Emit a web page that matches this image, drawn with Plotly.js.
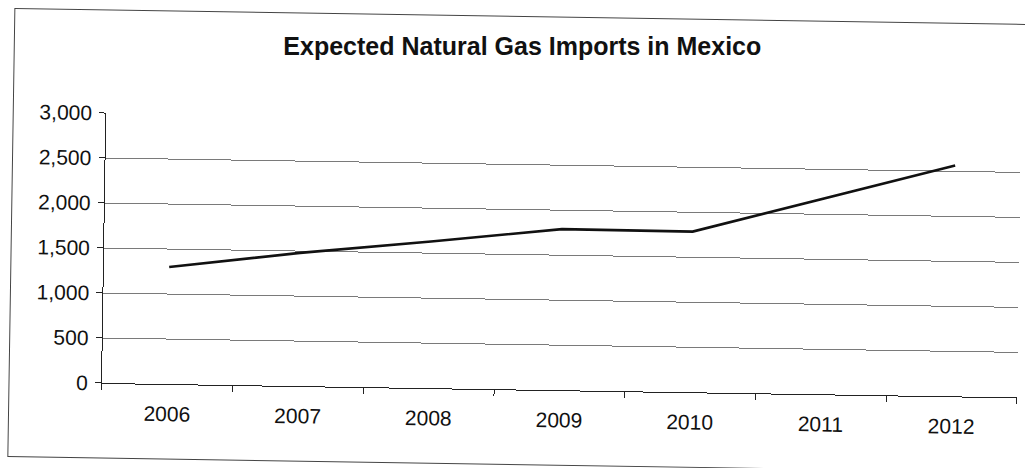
<!DOCTYPE html>
<html>
<head>
<meta charset="utf-8">
<script src="https://cdn.plot.ly/plotly-3.0.1.min.js"></script>
<style>
  html, body { margin: 0; padding: 0; background: #fff; overflow: hidden; }
  #chart { width: 1025px; height: 468px; transform: rotate(0.9deg); transform-origin: 102px 383px; }
</style>
</head>
<body>
<div id="chart"></div>
<script>
// Expected natural gas imports in Mexico, 2006-2012
const years = ['2006', '2007', '2008', '2009', '2010', '2011', '2012'];
const imports = [1300, 1480, 1630, 1790, 1785, 2175, 2565];
const yTicks = [0, 500, 1000, 1500, 2000, 2500, 3000];

const tilt = 0.9; // page tilt in degrees, title kept level

const trace = {
  x: years,
  y: imports,
  type: 'scatter',
  mode: 'lines',
  line: { color: '#111', width: 2.6 },
  hoverinfo: 'x+y'
};

const layout = {
  width: 1025,
  height: 468,
  margin: { l: 102, r: 8, t: 113, b: 85 },
  paper_bgcolor: '#fff',
  plot_bgcolor: '#fff',
  showlegend: false,
  font: { family: 'Liberation Sans, Arial, sans-serif', color: '#111' },
  title: {
    text: 'Expected Natural Gas Imports in Mexico',
    font: { family: 'Liberation Sans, Arial, sans-serif', size: 25, color: '#111', weight: 'bold' },
    x: 517 / 1025,
    xanchor: 'center',
    y: 1 - 40 / 468,
    yanchor: 'middle'
  },
  xaxis: {
    type: 'category',
    range: [-0.5, years.length - 0.5],
    showline: true,
    linecolor: '#222',
    linewidth: 1,
    ticks: 'outside',
    tickson: 'boundaries',
    ticklen: 6,
    tickcolor: '#222',
    showgrid: false,
    tickfont: { size: 21 },
    ticklabelstandoff: 11,
    fixedrange: true
  },
  yaxis: {
    range: [0, 3000],
    tickvals: yTicks,
    tickformat: ',d',
    showline: true,
    linecolor: '#222',
    linewidth: 1,
    ticks: 'outside',
    ticklen: 6,
    tickcolor: '#222',
    showgrid: true,
    gridcolor: '#7a7a7a',
    gridwidth: 1,
    zeroline: false,
    tickfont: { size: 21 },
    ticklabelstandoff: 3,
    fixedrange: true
  },
  shapes: [{
    // outer chart frame; its right side runs past the page edge
    type: 'rect',
    xref: 'paper', yref: 'paper',
    x0: (9 - 102) / 915, x1: (1100 - 102) / 915,
    y0: (383 - 458) / 270, y1: (383 - 10) / 270,
    line: { color: '#444', width: 1 },
    fillcolor: 'rgba(0,0,0,0)',
    layer: 'below'
  }]
};

Plotly.newPlot('chart', [trace], layout, { staticPlot: true, displayModeBar: false }).then(function (gd) {
  const t = gd.querySelector('.gtitle');
  if (t) {
    const bb = t.getBBox();
    const cx = bb.x + bb.width / 2;
    const cy = bb.y + bb.height / 2;
    t.setAttribute('transform', 'rotate(' + (-tilt) + ' ' + cx + ' ' + cy + ')');
  }
});
</script>
</body>
</html>
